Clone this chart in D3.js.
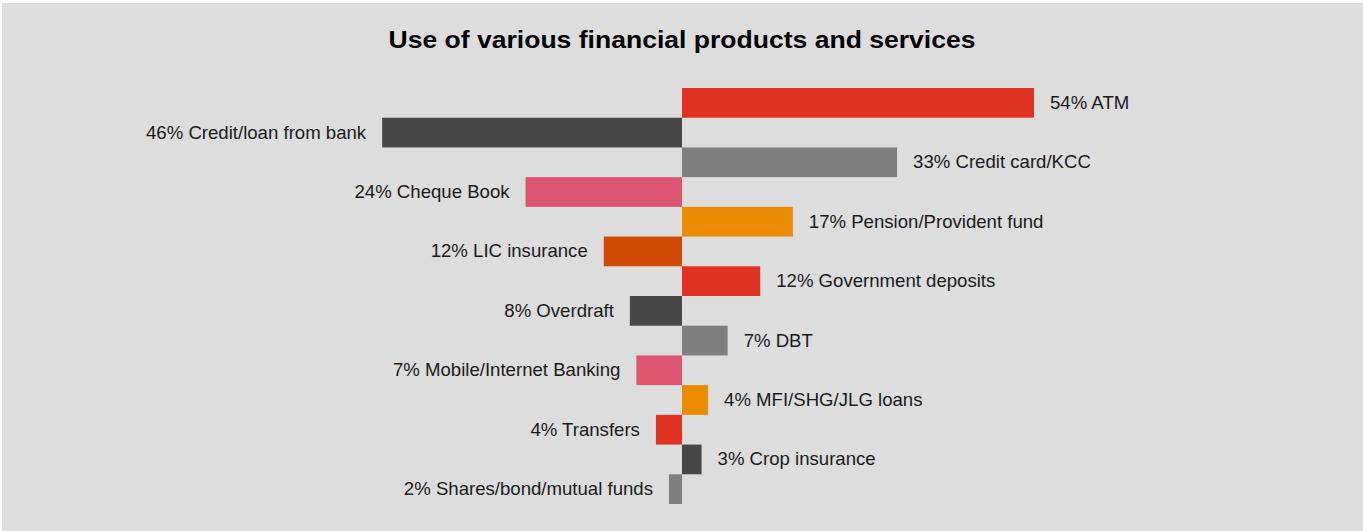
<!DOCTYPE html>
<html>
<head>
<meta charset="utf-8">
<script src="https://cdn.jsdelivr.net/npm/d3@7"></script>
<style>
  html, body { margin: 0; padding: 0; background: #ffffff; }
  svg { display: block; }
</style>
</head>
<body>
<svg id="chart" width="1363" height="531"></svg>
<script>
// Share of respondents using each product, in display order (top to bottom)
const categories = [
  "ATM", "Credit/loan from bank", "Credit card/KCC", "Cheque Book",
  "Pension/Provident fund", "LIC insurance", "Government deposits", "Overdraft",
  "DBT", "Mobile/Internet Banking", "MFI/SHG/JLG loans", "Transfers",
  "Crop insurance", "Shares/bond/mutual funds"
];
const values = [54, 46, 33, 24, 17, 12, 12, 8, 7, 7, 4, 4, 3, 2];
// Which side of the centre line each bar grows towards
const sides = ["right", "left", "right", "left", "right", "left", "right",
               "left", "right", "left", "right", "left", "right", "left"];
const colors = ["#e03220", "#474747", "#7f7f7f", "#dd5570", "#eb8c00", "#d04a02",
                "#e03220", "#474747", "#7f7f7f", "#dd5570", "#eb8c00", "#e03220",
                "#474747", "#7f7f7f"];
const title = "Use of various financial products and services";

const svg = d3.select("#chart");
const W = 1363, H = 531;

// Panel background
svg.append("rect")
  .attr("x", 2).attr("y", 3)
  .attr("width", W - 2).attr("height", H - 3)
  .attr("fill", "#dddddd");

svg.append("text")
  .attr("x", 682).attr("y", 47.5)
  .attr("text-anchor", "middle")
  .attr("font-family", "Liberation Sans, Arial, sans-serif")
  .attr("font-weight", "bold")
  .attr("font-size", 24.5)
  .attr("textLength", 587)
  .attr("lengthAdjust", "spacingAndGlyphs")
  .attr("fill", "#000")
  .text(title);

const centre = 682;
const len = d3.scaleLinear().domain([0, 54]).range([0, 352]);
const y = d3.scaleBand()
  .domain(categories)
  .range([88, 504])
  .paddingInner(0).paddingOuter(0);

const data = categories.map((c, i) => ({ name: c, value: values[i], side: sides[i], color: colors[i] }));

const g = svg.append("g");

g.selectAll("rect.bar")
  .data(data)
  .join("rect")
  .attr("class", "bar")
  .attr("x", d => d.side === "right" ? centre : centre - len(d.value))
  .attr("y", d => y(d.name))
  .attr("width", d => len(d.value))
  .attr("height", y.bandwidth())
  .attr("fill", d => d.color);

g.selectAll("text.label")
  .data(data)
  .join("text")
  .attr("class", "label")
  .attr("x", d => d.side === "right" ? centre + len(d.value) + 16 : centre - len(d.value) - 16)
  .attr("y", d => y(d.name) + y.bandwidth() / 2)
  .attr("dy", "0.32em")
  .attr("text-anchor", d => d.side === "right" ? "start" : "end")
  .attr("font-family", "Liberation Sans, Arial, sans-serif")
  .attr("font-size", 18.6)
  .attr("fill", "#1a1a1a")
  .text(d => `${d.value}% ${d.name}`);
</script>
</body>
</html>
